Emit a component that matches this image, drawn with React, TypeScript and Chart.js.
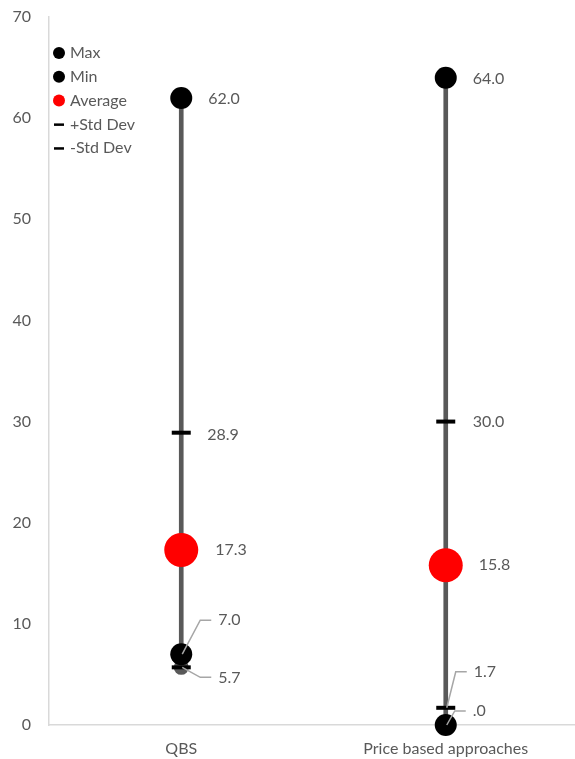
import React, { useEffect, useRef } from "react";
import { Chart, registerables } from "chart.js";

Chart.register(...registerables);

const categories = ["QBS", "Price based approaches"];
const maxValues = [62.0, 64.0];
const minValues = [7.0, 0.0];
const averageValues = [17.3, 15.8];
const plusStdValues = [28.9, 30.0];
const minusStdValues = [5.7, 1.7];
const yTicks = [0, 10, 20, 30, 40, 50, 60, 70];

const legendNames = ["Max", "Min", "Average", "+Std Dev", "-Std Dev"];

const FONT = "Lato, 'Open Sans', sans-serif";
const TEXT = "#595959";
const FS = 16;

// label placement (pixel offsets from the point; leader = elbow line)
type LabelPos = { dx: number; dy: number; leader?: boolean };
const labelLayout: Record<string, LabelPos[]> = {
  Max: [{ dx: 27, dy: 1 }, { dx: 27, dy: 1 }],
  Min: [{ dx: 37, dy: -34, leader: true }, { dx: 27, dy: -14, leader: true }],
  Average: [{ dx: 34, dy: 0 }, { dx: 33, dy: 0 }],
  "+Std Dev": [{ dx: 26, dy: 2 }, { dx: 27, dy: 0 }],
  "-Std Dev": [{ dx: 37, dy: 10, leader: true }, { dx: 28, dy: -36, leader: true }],
};

const fmt = (v: number) => {
  const s = v.toFixed(1);
  return s.startsWith("0") ? s.slice(1) : s;
};

const labelPlugin = {
  id: "valueLabels",
  afterDatasetsDraw(chart: any) {
    const ctx = chart.ctx;
    ctx.save();
    ctx.font = `${FS}px ${FONT}`;
    ctx.fillStyle = TEXT;
    ctx.textBaseline = "middle";
    ctx.textAlign = "left";
    chart.data.datasets.forEach((ds: any, di: number) => {
      const layout = labelLayout[ds.label];
      if (!layout) return;
      const meta = chart.getDatasetMeta(di);
      meta.data.forEach((el: any, i: number) => {
        const pos = layout[i];
        const lx = el.x + pos.dx;
        const ly = el.y + pos.dy;
        if (pos.leader) {
          ctx.save();
          ctx.strokeStyle = "#a6a6a6";
          ctx.lineWidth = 1.5;
          ctx.beginPath();
          ctx.moveTo(el.x + 1, el.y);
          ctx.lineTo(lx - 18, ly);
          ctx.lineTo(lx - 7, ly);
          ctx.stroke();
          ctx.restore();
        }
        ctx.fillText(fmt(ds.data[i]), lx, ly);
      });
    });
    ctx.restore();
  },
};

const legendPlugin = {
  id: "insideLegend",
  afterDraw(chart: any) {
    const ctx = chart.ctx;
    const x0 = chart.chartArea.left + 10;
    const y0 = chart.chartArea.top + 36;
    ctx.save();
    ctx.font = `${FS}px ${FONT}`;
    ctx.textBaseline = "middle";
    ctx.textAlign = "left";
    legendNames.forEach((name, i) => {
      const y = y0 + i * 23.8;
      const ds = chart.data.datasets.find((d: any) => d.label === name);
      const color = ds ? ds.backgroundColor : "#000";
      if (name.includes("Std")) {
        ctx.fillStyle = "#000";
        ctx.fillRect(x0 - 5, y - 1, 10, 2.5);
      } else {
        ctx.fillStyle = color;
        ctx.beginPath();
        ctx.arc(x0, y, 6, 0, Math.PI * 2);
        ctx.fill();
      }
      ctx.fillStyle = TEXT;
      ctx.fillText(name, x0 + 11, y);
    });
    ctx.restore();
  },
};

export default function App() {
  const ref = useRef<HTMLCanvasElement>(null);
  useEffect(() => {
    if (!ref.current) return;
    const lows = minValues.map((v, i) => Math.min(v, minusStdValues[i]));
    const highs = maxValues.map((v, i) => Math.max(v, plusStdValues[i]));
    const pointDs = (label: string, data: number[], color: string, radius: number, order: number, style: any = "circle") => ({
      type: "line" as const,
      label,
      data,
      showLine: false,
      clip: false,
      backgroundColor: color,
      borderColor: color,
      pointBackgroundColor: color,
      pointBorderColor: color,
      pointRadius: radius,
      pointHoverRadius: radius,
      pointBorderWidth: style === "line" ? 4 : 0,
      pointStyle: style,
      order,
    });
    const chart = new Chart(ref.current, {
      type: "bar",
      data: {
        labels: categories,
        datasets: [
          {
            type: "bar",
            label: "Range",
            data: lows.map((l, i) => [l, highs[i]]),
            backgroundColor: "#595959",
            barThickness: 4,
            order: 10,
          } as any,
          pointDs("Ends", lows, "#595959", 7.5, 9),
          pointDs("Min", minValues, "#000000", 11, 8),
          pointDs("Max", maxValues, "#000000", 11, 7),
          pointDs("Average", averageValues, "#ff0000", 17, 6),
          pointDs("+Std Dev", plusStdValues, "#000000", 9.5, 2, "line"),
          pointDs("-Std Dev", minusStdValues, "#000000", 9.5, 1, "line"),
        ],
      },
      options: {
        animation: false,
        responsive: false,
        maintainAspectRatio: false,
        layout: { autoPadding: false, padding: { top: 17, right: 0, left: 0, bottom: 0 } },
        plugins: { legend: { display: false }, tooltip: { enabled: false } },
        scales: {
          x: {
            offset: true,
            grid: { display: false, drawTicks: false },
            border: { display: true, color: "#d9d9d9", width: 1.5 },
            ticks: { color: TEXT, font: { family: FONT, size: FS }, padding: 14, maxRotation: 0 },
            afterFit: (s: any) => {
              s.height = 34;
              s.paddingLeft = 0;
              s.paddingRight = 0;
            },
          },
          y: {
            min: 0,
            max: 70,
            afterBuildTicks: (s: any) => {
              s.ticks = yTicks.map((v) => ({ value: v }));
            },
            grid: { display: false, drawTicks: false },
            border: { display: true, color: "#d9d9d9", width: 1.5 },
            ticks: { color: TEXT, font: { family: FONT, size: FS }, padding: 18 },
            afterFit: (s: any) => {
              s.width = 49;
              s.paddingTop = 0;
              s.paddingBottom = 0;
            },
          },
        },
      },
      plugins: [labelPlugin, legendPlugin],
    });
    return () => chart.destroy();
  }, []);
  return (
    <div style={{ position: "fixed", left: 0, top: 0, width: 575, height: 759, overflow: "hidden", background: "#fff" }}>
      <canvas ref={ref} width={578} height={759} style={{ display: "block", width: 578, height: 759 }} />
    </div>
  );
}
